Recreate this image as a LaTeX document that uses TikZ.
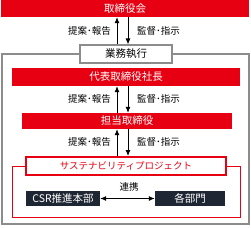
\documentclass[tikz,border=0pt]{standalone}
\usepackage{fontspec}
\setmainfont{Noto Sans CJK JP}
\usetikzlibrary{arrows.meta}
\definecolor{cred}{HTML}{E60012}
\definecolor{cdark}{HTML}{1F2633}
\definecolor{cgray}{HTML}{8C8C8C}
\tikzset{
  redbox/.style={fill=cred,text=white,inner sep=0pt,font=\fontsize{10.5}{12}\selectfont},
  whitebox/.style={fill=white,draw=cgray,line width=1.2pt,inner sep=0pt,font=\fontsize{10.5}{12}\selectfont},
  projbox/.style={fill=white,draw=cred,line width=2pt,text=cred,inner sep=0pt,font=\fontsize{9.5}{11}\selectfont},
  darkbox/.style={fill=cdark,text=white,inner sep=0pt,font=\fontsize{10.5}{12}\selectfont},
  lbl/.style={inner sep=0pt,font=\fontsize{9.5}{11}\selectfont},
  arr/.style={line width=0.8pt,-{Latex[length=6pt,width=5pt]}},
  darr/.style={line width=0.8pt,{Latex[length=6pt,width=5pt]}-{Latex[length=6pt,width=5pt]}}
}
\begin{document}
\begin{tikzpicture}[x=1pt,y=-1pt]
\useasboundingbox (0,0) rectangle (251,227);
% outer gray frame
\draw[cgray,line width=2pt] (2,54) rectangle (249,224);
% red thin frame
\draw[cred,line width=1pt] (12,166) rectangle (240,217);
% top box
\node[redbox,minimum width=248pt,minimum height=17pt] (top) at (125,8.5) {取締役会};
\node[whitebox,minimum width=92pt,minimum height=18pt] (gyomu) at (126,54) {業務執行};
\node[redbox,minimum width=228pt,minimum height=18pt] (pres) at (126,77) {代表取締役社長};
\node[redbox,minimum width=210pt,minimum height=16pt] (tanto) at (127,121) {担当取締役};
\node[projbox,minimum width=200pt,minimum height=18pt] (proj) at (126,166) {サステナビリティプロジェクト};
\node[darkbox,minimum width=74pt,minimum height=15pt] (csr) at (63,198.5) {CSR推進本部};
\node[darkbox,minimum width=70pt,minimum height=15pt] (bumon) at (190,198.5) {各部門};
\coordinate (ux) at (117,0);
\coordinate (dx) at (128,0);
% arrows
\draw[arr] (gyomu.north -| ux) -- (top.south -| ux);
\draw[arr] (top.south -| dx) -- (gyomu.north -| dx);
\draw[arr] (tanto.north -| ux) -- (pres.south -| ux);
\draw[arr] (pres.south -| dx) -- (tanto.north -| dx);
\draw[arr] (proj.north -| ux) -- (tanto.south -| ux);
\draw[arr] (tanto.south -| dx) -- (proj.north -| dx);
\draw[darr] (csr.east) -- (bumon.west);
% labels
\node[lbl,anchor=east] (l1) at (111,31) {提案･報告};
\node[lbl,anchor=west] (r1) at (137,31) {監督･指示};
\node[lbl,anchor=east] (l2) at (111,99) {提案･報告};
\node[lbl,anchor=west] (r2) at (137,99) {監督･指示};
\node[lbl,anchor=east] (l3) at (111,142) {提案･報告};
\node[lbl,anchor=west] (r3) at (137,142) {監督･指示};
\node[lbl] (renkei) at (129,187) {連携};
\end{tikzpicture}
\end{document}
